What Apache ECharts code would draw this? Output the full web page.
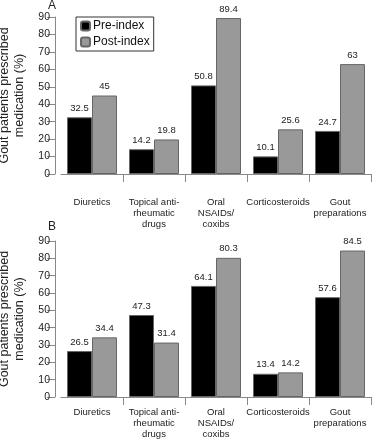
<!DOCTYPE html>
<html><head><meta charset="utf-8">
<script src="https://cdn.jsdelivr.net/npm/echarts@6/dist/echarts.min.js"></script>
<style>html,body{margin:0;padding:0;background:#fff}#c{width:373px;height:440px}</style>
</head><body><div id="c"></div>
<script>
var categories = ['Diuretics', 'Topical anti-\nrheumatic\ndrugs', 'Oral\nNSAIDs/\ncoxibs', 'Corticosteroids', 'Gout\npreparations'];
var preA = [32.5, 14.2, 50.8, 10.1, 24.7];
var postA = [45, 19.8, 89.4, 25.6, 63];
var preB = [26.5, 47.3, 64.1, 13.4, 57.6];
var postB = [34.4, 31.4, 80.3, 14.2, 84.5];
var seriesNames = ['Pre-index', 'Post-index'];
var panelLabels = ['A', 'B'];
var yTitle = 'Gout patients prescribed\nmedication (%)';

var FONT = 'Liberation Sans, Arial, sans-serif';
var grids = [
  {left: 61, right: 2, top: 17, bottom: 266, outerBoundsMode: 'none', containLabel: false},
  {left: 61, right: 2, top: 241, bottom: 43, outerBoundsMode: 'none', containLabel: false}
];
var labelMargins = [23, 10];
function xAx(i){
  return {type:'category', gridIndex:i, data:categories,
    axisLine:{lineStyle:{color:'#888', width:1}},
    axisTick:{show:true, length:8, lineStyle:{color:'#888'}, interval:function(idx){return idx !== 0;}},
    axisLabel:{color:'#222', fontSize:9.5, lineHeight:11, margin:labelMargins[i], fontFamily:FONT, interval:0}};
}
function yAx(i){
  return {type:'value', gridIndex:i, min:0, max:90, interval:10, offset:6,
    name: yTitle, nameLocation:'middle', nameGap:27, nameRotate:90,
    nameTextStyle:{color:'#222', fontSize:12.5, lineHeight:15, fontFamily:FONT},
    axisLine:{show:true, lineStyle:{color:'#888'}},
    axisTick:{show:true, length:8, lineStyle:{color:'#888'}},
    axisLabel:{color:'#222', fontSize:10.5, margin:5, fontFamily:FONT},
    splitLine:{show:false}};
}
function bar(name, data, i, color){
  return {type:'bar', name:name, xAxisIndex:i, yAxisIndex:i, data:data,
    barWidth:25, barGap:'0%',
    itemStyle:{color:color, borderColor:'#666', borderWidth:1},
    label:{show:true, position:'top', distance:4, color:'#222', fontSize:9.5, fontFamily:FONT},
    emphasis:{disabled:true}};
}
var chart = echarts.init(document.getElementById('c'));
chart.setOption({
  animation:false,
  title:[
    {text:panelLabels[0], left:48, top:0, padding:0, textStyle:{fontSize:12, fontWeight:'normal', color:'#222', fontFamily:FONT}},
    {text:panelLabels[1], left:48, top:221, padding:0, textStyle:{fontSize:12, fontWeight:'normal', color:'#222', fontFamily:FONT}}
  ],
  legend:{data:seriesNames, orient:'vertical', left:76, top:17, borderColor:'#333', borderWidth:1,
    padding:[3,4,3,4], itemWidth:9, itemHeight:9, itemGap:4,
    textStyle:{fontSize:12, color:'#111', fontFamily:FONT, padding:[0,0,0,-2]}},
  grid:grids,
  xAxis:[xAx(0), xAx(1)],
  yAxis:[yAx(0), yAx(1)],
  series:[
    bar(seriesNames[0], preA, 0, '#000'),
    bar(seriesNames[1], postA, 0, '#999'),
    bar(seriesNames[0], preB, 1, '#000'),
    bar(seriesNames[1], postB, 1, '#999')
  ]
});
</script></body></html>
